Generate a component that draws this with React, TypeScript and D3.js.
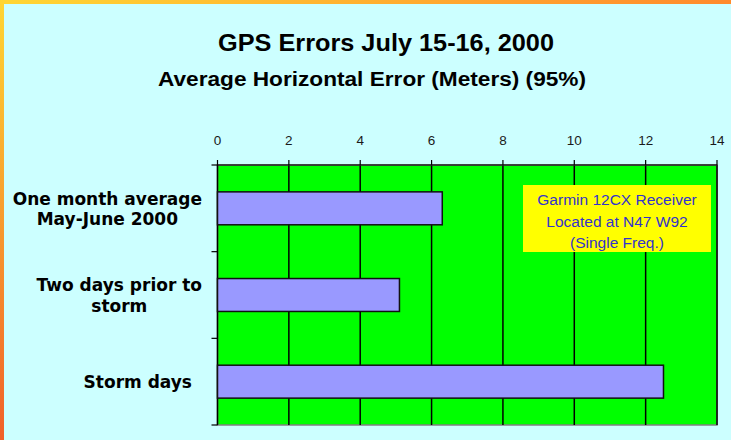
import React, { useMemo } from "react";
import * as d3 from "d3";

const categories = ["One month average May-June 2000", "Two days prior to storm", "Storm days"];
const categoryLines = [["One month average", "May-June 2000"], ["Two days prior to", "storm"], ["Storm days"]];
const values = [6.3, 5.1, 12.5];
const xTicks = [0, 2, 4, 6, 8, 10, 12, 14];
const title = "GPS Errors July 15-16, 2000";
const subtitle = "Average Horizontal Error (Meters) (95%)";
const noteLines = ["Garmin 12CX Receiver", "Located at N47 W92", "(Single Freq.)"];

const W = 731;
const H = 440;
const plot = { left: 217.5, right: 717, top: 165, bottom: 425 };
const labelFont = "bold 17px 'DejaVu Sans'";

export default function App() {
  const x = d3.scaleLinear().domain([0, 14]).range([plot.left, plot.right]);
  const y = d3
    .scaleBand<string>()
    .domain(categories)
    .range([plot.top, plot.bottom])
    .paddingInner(0.62)
    .paddingOuter(0.31);
  const step = y.step();
  const boundaries = d3.range(categories.length + 1).map((i) => plot.top + i * step);

  const widths = useMemo(() => {
    const c = document.createElement("canvas").getContext("2d");
    if (!c) return categoryLines.map(() => 180);
    c.font = labelFont;
    return categoryLines.map((ls) => Math.max(...ls.map((l) => c.measureText(l).width)));
  }, []);

  return (
    <svg width={W} height={H} style={{ position: "absolute", left: 0, top: 0 }}>
      <defs>
        <linearGradient id="topG" x1="0" x2="1" y1="0" y2="0">
          <stop offset="0" stopColor="#ffd633" />
          <stop offset="1" stopColor="#ff8a2c" />
        </linearGradient>
        <linearGradient id="leftG" x1="0" x2="0" y1="0" y2="1">
          <stop offset="0" stopColor="#ffd633" />
          <stop offset="1" stopColor="#f0602a" />
        </linearGradient>
      </defs>
      <rect x={0} y={0} width={W} height={H} fill="#ccffff" />
      <rect x={0} y={0} width={W} height={4} fill="url(#topG)" />
      <rect x={0} y={0} width={4} height={H} fill="url(#leftG)" />

      <text
        x={386}
        y={51}
        textAnchor="middle"
        fontFamily="'Liberation Sans', Arial, sans-serif"
        fontWeight="bold"
        fontSize={23}
        textLength={336}
        lengthAdjust="spacingAndGlyphs"
        fill="#000"
      >
        {title}
      </text>
      <text
        x={372}
        y={86}
        textAnchor="middle"
        fontFamily="'Liberation Sans', Arial, sans-serif"
        fontWeight="bold"
        fontSize={20}
        textLength={428}
        lengthAdjust="spacingAndGlyphs"
        fill="#000"
      >
        {subtitle}
      </text>

      {/* plot area */}
      <rect
        x={plot.left}
        y={plot.top}
        width={plot.right - plot.left}
        height={plot.bottom - plot.top}
        fill="#00ff00"
        stroke="#808080"
        strokeWidth={1.5}
      />
      {xTicks.slice(1).map((t) => (
        <line key={"g" + t} x1={x(t)} x2={x(t)} y1={plot.top} y2={plot.bottom} stroke="#000" strokeWidth={1.5} />
      ))}
      {/* top axis */}
      <line x1={plot.left} x2={plot.right} y1={plot.top} y2={plot.top} stroke="#222" strokeWidth={1.5} />
      {xTicks.map((t) => (
        <g key={"t" + t}>
          <line x1={x(t)} x2={x(t)} y1={plot.top - 5} y2={plot.top} stroke="#000" strokeWidth={1.2} />
          <text
            x={x(t)}
            y={145}
            textAnchor="middle"
            fontFamily="'Liberation Sans', Arial, sans-serif"
            fontSize={13.5}
            fill="#1a1a1a"
          >
            {t}
          </text>
        </g>
      ))}
      {/* left axis */}
      <line x1={plot.left} x2={plot.left} y1={plot.top} y2={plot.bottom} stroke="#000" strokeWidth={1.5} />
      {boundaries.map((b, i) => (
        <line key={"b" + i} x1={plot.left - 6} x2={plot.left} y1={b} y2={b} stroke="#000" strokeWidth={1.2} />
      ))}

      {/* bars */}
      {categories.map((c, i) => (
        <rect
          key={c}
          x={x(0)}
          y={y(c)}
          width={x(values[i]) - x(0)}
          height={y.bandwidth()}
          fill="#9999ff"
          stroke="#111"
          strokeWidth={1.5}
        />
      ))}

      {/* category labels */}
      {categories.map((c, i) => {
        const lines = categoryLines[i];
        const center = (y(c) as number) + y.bandwidth() / 2;
        const cx = 202 - widths[i] / 2 - (lines.length === 1 ? 10 : 0);
        const lh = 20.5;
        const first = center - ((lines.length - 1) * lh) / 2 + 6.5;
        return (
          <text
            key={"l" + c}
            textAnchor="middle"
            fontFamily="'DejaVu Sans', Verdana, sans-serif"
            fontWeight="bold"
            fontSize={17}
            fill="#000"
          >
            {lines.map((l, j) => (
              <tspan key={j} x={cx} y={first + j * lh}>
                {l}
              </tspan>
            ))}
          </text>
        );
      })}

      {/* note box */}
      <rect x={523} y={185} width={188} height={67} fill="#ffff00" />
      {noteLines.map((l, i) => (
        <text
          key={"n" + i}
          x={617}
          y={205 + i * 21.5}
          textAnchor="middle"
          fontFamily="'Liberation Sans', Arial, sans-serif"
          fontSize={15.5}
          fill="#3333cc"
        >
          {l}
        </text>
      ))}
    </svg>
  );
}
